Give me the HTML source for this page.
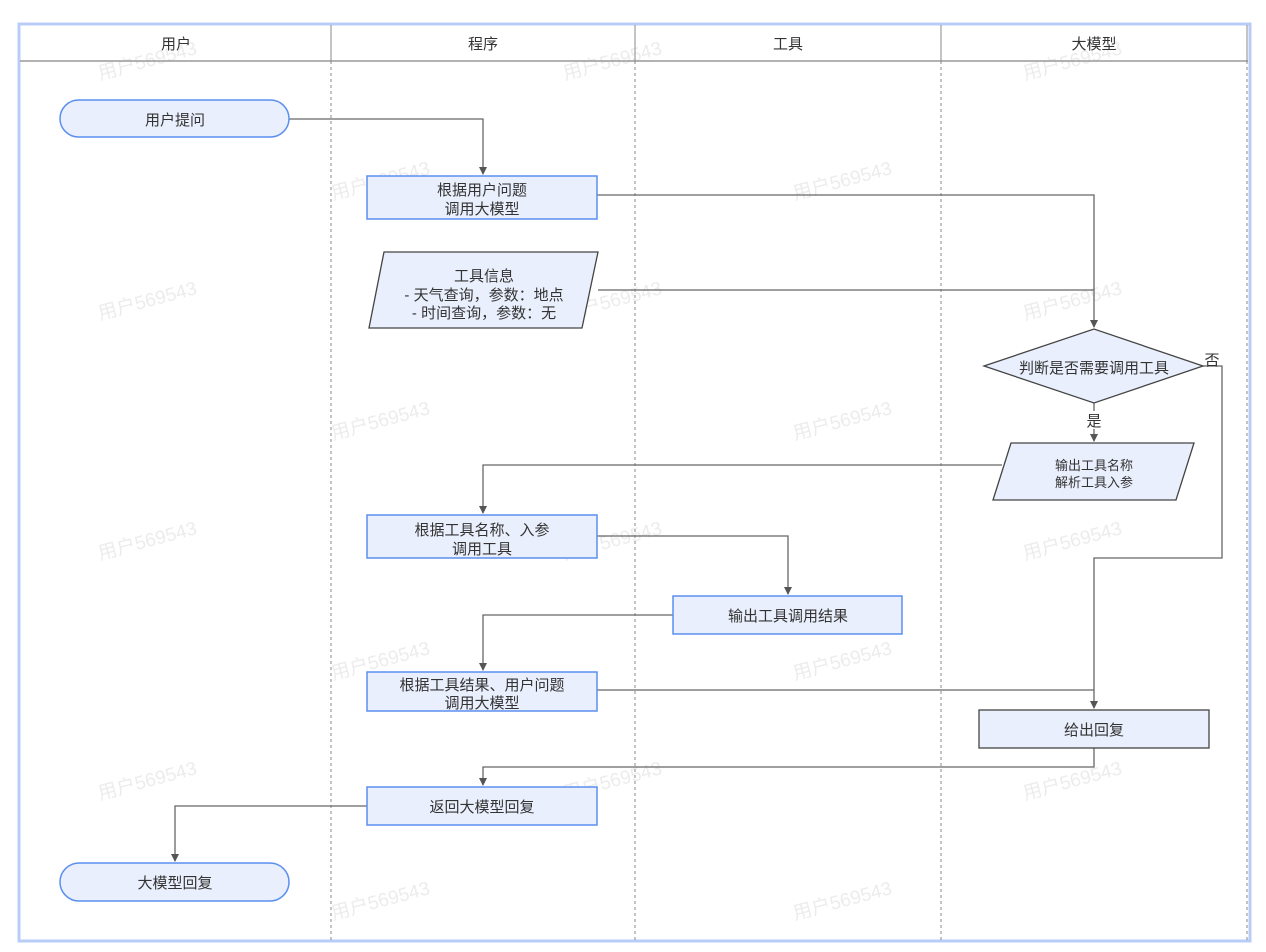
<!DOCTYPE html>
<html><head><meta charset="utf-8"><style>
html,body{margin:0;padding:0;background:#fff;}
svg{display:block;}
text{font-family:"Liberation Sans","Noto Sans CJK SC",sans-serif;fill:#333;}
.wm text{font-size:19px;fill:#ececec;}
</style></head><body>
<svg width="1266" height="952" viewBox="0 0 1266 952" xmlns="http://www.w3.org/2000/svg">
<defs><marker id="a" markerWidth="8" markerHeight="8" refX="4" refY="7" orient="0" markerUnits="userSpaceOnUse"><path d="M0,0 L8,0 L4,8 Z" fill="#555"/></marker></defs>
<rect width="1266" height="952" fill="#fff"/>
<g class="wm">
<text x="100" y="80" transform="rotate(-15 100 80)">用户569543</text>
<text x="565" y="80" transform="rotate(-15 565 80)">用户569543</text>
<text x="1025" y="80" transform="rotate(-15 1025 80)">用户569543</text>
<text x="333" y="200" transform="rotate(-15 333 200)">用户569543</text>
<text x="795" y="200" transform="rotate(-15 795 200)">用户569543</text>
<text x="100" y="320" transform="rotate(-15 100 320)">用户569543</text>
<text x="565" y="320" transform="rotate(-15 565 320)">用户569543</text>
<text x="1025" y="320" transform="rotate(-15 1025 320)">用户569543</text>
<text x="333" y="440" transform="rotate(-15 333 440)">用户569543</text>
<text x="795" y="440" transform="rotate(-15 795 440)">用户569543</text>
<text x="100" y="560" transform="rotate(-15 100 560)">用户569543</text>
<text x="565" y="560" transform="rotate(-15 565 560)">用户569543</text>
<text x="1025" y="560" transform="rotate(-15 1025 560)">用户569543</text>
<text x="333" y="680" transform="rotate(-15 333 680)">用户569543</text>
<text x="795" y="680" transform="rotate(-15 795 680)">用户569543</text>
<text x="100" y="800" transform="rotate(-15 100 800)">用户569543</text>
<text x="565" y="800" transform="rotate(-15 565 800)">用户569543</text>
<text x="1025" y="800" transform="rotate(-15 1025 800)">用户569543</text>
<text x="333" y="920" transform="rotate(-15 333 920)">用户569543</text>
<text x="795" y="920" transform="rotate(-15 795 920)">用户569543</text>
</g>
<rect x="19" y="24" width="1231" height="917" fill="none" stroke="#b9ccf8" stroke-width="3"/>
<line x1="20" y1="61" x2="1248" y2="61" stroke="#999" stroke-width="1.5"/>
<line x1="331" y1="25" x2="331" y2="61" stroke="#888"/>
<line x1="635" y1="25" x2="635" y2="61" stroke="#888"/>
<line x1="941" y1="25" x2="941" y2="61" stroke="#888"/>
<line x1="1247" y1="25" x2="1247" y2="61" stroke="#888"/>
<g stroke="#888" stroke-dasharray="3,3">
<line x1="331" y1="61" x2="331" y2="940"/>
<line x1="635" y1="61" x2="635" y2="940"/>
<line x1="941" y1="61" x2="941" y2="940"/>
<line x1="1247" y1="61" x2="1247" y2="940"/>
</g>
<g font-size="15" text-anchor="middle">
<text x="176" y="49">用户</text>
<text x="483" y="49">程序</text>
<text x="788" y="49">工具</text>
<text x="1094" y="49">大模型</text>
</g>
<g fill="none" stroke="#666" stroke-width="1.3">
<path d="M289,119 H483 V174" marker-end="url(#a)"/>
<path d="M597,195 H1094 V327" marker-end="url(#a)"/>
<path d="M598,290 H1094"/>
<path d="M1094,403 V441" marker-end="url(#a)"/>
<path d="M1203,366 H1222 V558 H1094 V708" marker-end="url(#a)"/>
<path d="M1002,465 H483 V513" marker-end="url(#a)"/>
<path d="M597,536 H788 V594" marker-end="url(#a)"/>
<path d="M673,615 H483 V670" marker-end="url(#a)"/>
<path d="M597,690 H1094"/>
<path d="M1094,748 V767 H483 V785" marker-end="url(#a)"/>
<path d="M367,806 H175 V861" marker-end="url(#a)"/>
</g>
<rect x="1085" y="411" width="18" height="18" fill="#fff"/>
<text x="1094" y="426" font-size="15" text-anchor="middle" fill="#555">是</text>
<text x="1212" y="365" font-size="15" text-anchor="middle" fill="#555">否</text>
<g fill="#e9effc" stroke="#5b8ff0" stroke-width="1.5">
<rect x="60" y="100" width="229" height="37" rx="18.5"/>
<rect x="367" y="176" width="230" height="43"/>
<rect x="367" y="515" width="230" height="43"/>
<rect x="673" y="596" width="229" height="38"/>
<rect x="367" y="672" width="230" height="39"/>
<rect x="367" y="787" width="230" height="38"/>
<rect x="60" y="863" width="229" height="38" rx="19"/>
</g>
<g fill="#e9effc" stroke="#444" stroke-width="1.3">
<polygon points="384,252 598,252 582,328 369,328"/>
<polygon points="984,366 1094,329 1203,366 1094,403"/>
<polygon points="1011,443 1194,443 1176,500 993,500"/>
<rect x="979" y="710" width="230" height="38"/>
</g>
<g font-size="15" text-anchor="middle">
<text x="175" y="125">用户提问</text>
<text x="482" y="195">根据用户问题</text>
<text x="482" y="214">调用大模型</text>
<text x="484" y="281">工具信息</text>
<text x="484" y="300">- 天气查询，参数：地点</text>
<text x="484" y="318">- 时间查询，参数：无</text>
<text x="1094" y="373">判断是否需要调用工具</text>
<text x="1094" y="470" font-size="13">输出工具名称</text>
<text x="1094" y="487" font-size="13">解析工具入参</text>
<text x="482" y="535">根据工具名称、入参</text>
<text x="482" y="554">调用工具</text>
<text x="788" y="621">输出工具调用结果</text>
<text x="482" y="690">根据工具结果、用户问题</text>
<text x="482" y="708">调用大模型</text>
<text x="1094" y="735">给出回复</text>
<text x="482" y="812">返回大模型回复</text>
<text x="175" y="888">大模型回复</text>
</g>
</svg>
</body></html>
